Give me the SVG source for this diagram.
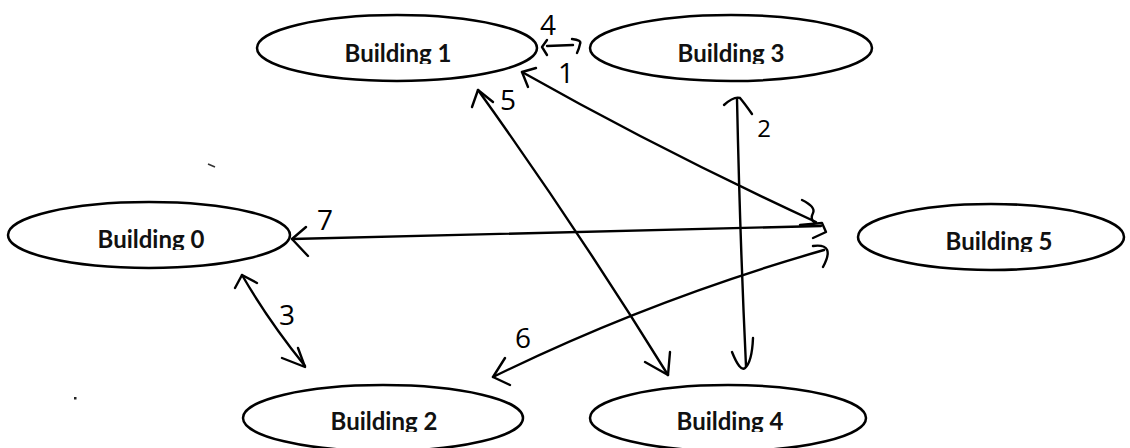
<svg xmlns="http://www.w3.org/2000/svg" width="1130" height="448" viewBox="0 0 1130 448">
  <style>
    .bldg ellipse { fill: #ffffff; stroke: #000000; stroke-width: 2.5; }
    .bldg text { font-family: Lato, "Liberation Sans", sans-serif; font-weight: 700; font-size: 24px; fill: #111111; text-anchor: middle; }
    .edge { fill: none; stroke: #000000; stroke-width: 2.4; stroke-linecap: round; stroke-linejoin: round; }
    .wt { font-family: "Open Sans", "DejaVu Sans", sans-serif; font-weight: 400; font-size: 28px; fill: #000000; text-anchor: middle; }
  </style>
  <defs>
    <!-- label boxes clip the text just under the baseline -->
    <clipPath id="clipB1"><rect x="300" y="20" width="200" height="44"/></clipPath>
    <clipPath id="clipB3"><rect x="630" y="20" width="200" height="44"/></clipPath>
    <clipPath id="clipB0"><rect x="50" y="207" width="200" height="43"/></clipPath>
    <clipPath id="clipB5"><rect x="900" y="209" width="200" height="43"/></clipPath>
    <clipPath id="clipB2"><rect x="285" y="390" width="200" height="42"/></clipPath>
    <clipPath id="clipB4"><rect x="630" y="390" width="200" height="42"/></clipPath>
  </defs>
  <rect width="1130" height="448" fill="#ffffff"/>

  <!-- connectors -->
  <g id="connectors">
    <!-- B1 - B3, weight 4 -->
    <path class="edge" d="M 547 46 L 573 45"/>
    <path class="edge" d="M 547 40 L 542 47 L 547 55"/>
    <path class="edge" d="M 572 39 Q 582 40 580 44 Q 579 49 577 53"/>
    <!-- B1 - B5, weight 1 -->
    <path class="edge" d="M 522 72 Q 660 150 816 222"/>
    <path class="edge" d="M 528 87 L 522 72 L 536 68"/>
    <path class="edge" d="M 802 200 Q 816 207 813 213 Q 810 219 814 222"/>
    <!-- B1 - B4, weight 5 -->
    <path class="edge" d="M 478 90 Q 575 225 668 375"/>
    <path class="edge" d="M 472 107 L 478 90 L 493 102"/>
    <path class="edge" d="M 645 362 L 668 375 L 670 352"/>
    <!-- B3 - B4, weight 2 -->
    <path class="edge" d="M 737 99 Q 740 240 746 366"/>
    <path class="edge" d="M 724 105 Q 734 96 740 98 Q 745 104 752 114"/>
    <path class="edge" d="M 732 352 Q 740 372 745 368 Q 752 362 753 338"/>
    <!-- B0 - B5, weight 7 -->
    <path class="edge" d="M 292 239 L 821 226"/>
    <path class="edge" d="M 306 227 L 292 239 L 308 256"/>
    <path class="edge" d="M 800 225 L 822 223 L 826 232 L 813 238"/>
    <!-- B2 - B5, weight 6 -->
    <path class="edge" d="M 493 377 Q 650 300 824 250"/>
    <path class="edge" d="M 505 358 L 493 377 L 510 385"/>
    <path class="edge" d="M 813 246 Q 836 243 823 267"/>
    <!-- B0 - B2, weight 3 -->
    <path class="edge" d="M 242 275 Q 268 320 305 366"/>
    <path class="edge" d="M 235 288 L 242 275 L 257 283"/>
    <path class="edge" d="M 282 358 L 305 367 L 298 348"/>
  </g>

  <!-- edge weights -->
  <g id="weights">
    <text class="wt" x="548" y="35">4</text>
    <text class="wt" x="566" y="83">1</text>
    <text class="wt" x="508" y="110">5</text>
    <text class="wt" x="764" y="137" style="font-size:24px">2</text>
    <text class="wt" x="325" y="230">7</text>
    <text class="wt" x="287" y="325">3</text>
    <text class="wt" x="523" y="348">6</text>
  </g>

  <!-- buildings -->
  <g id="building1" class="bldg">
    <ellipse cx="397" cy="48" rx="140" ry="33"/>
    <text x="398" y="62" clip-path="url(#clipB1)">Building 1</text>
  </g>
  <g id="building3" class="bldg">
    <ellipse cx="731" cy="48" rx="141" ry="33"/>
    <text x="731" y="62" clip-path="url(#clipB3)">Building 3</text>
  </g>
  <g id="building0" class="bldg">
    <ellipse cx="149" cy="235" rx="141" ry="33"/>
    <text x="151" y="248" clip-path="url(#clipB0)">Building 0</text>
  </g>
  <g id="building5" class="bldg">
    <ellipse cx="991" cy="237" rx="133" ry="33"/>
    <text x="999" y="250" clip-path="url(#clipB5)">Building 5</text>
  </g>
  <g id="building2" class="bldg">
    <ellipse cx="383" cy="418" rx="140" ry="33"/>
    <text x="384" y="430" clip-path="url(#clipB2)">Building 2</text>
  </g>
  <g id="building4" class="bldg">
    <ellipse cx="728" cy="418" rx="138" ry="33"/>
    <text x="730" y="430" clip-path="url(#clipB4)">Building 4</text>
  </g>

  <!-- stray pen marks -->
  <path d="M 208 164 L 215 167" stroke="#333333" stroke-width="1.6" fill="none"/>
  <rect x="74" y="397" width="2.5" height="2.5" fill="#222222"/>
</svg>
